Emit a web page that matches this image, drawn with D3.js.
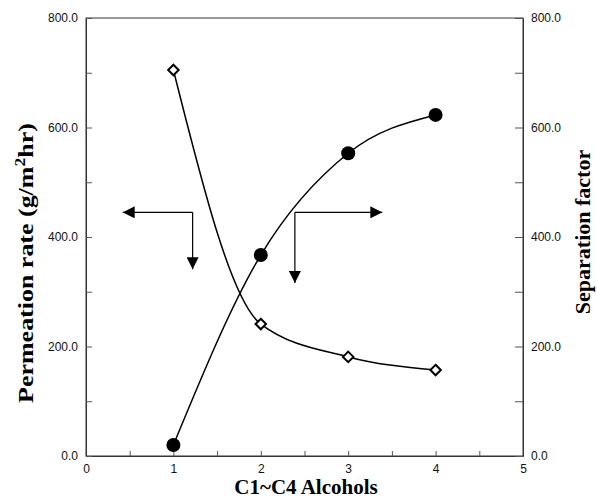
<!DOCTYPE html>
<html>
<head>
<meta charset="utf-8">
<script src="https://cdn.jsdelivr.net/npm/d3@7"></script>
<style>
	body { margin: 0; background: white; }
</style>
</head>
<body>
<div id="viz"></div>
<script>
// alcohols C1..C4
let alcohols = [1, 2, 3, 4];
let permeation = [20, 367, 553, 623];   // g/m2hr, left axis, filled circles
let separation = [705, 241, 181, 157];  // right axis, open diamonds
let xTicks = [0, 1, 2, 3, 4, 5];
let yTicks = [0, 200, 400, 600, 800];
// arrow annotations in data units: corner, horizontal tip, vertical tip
let arrowLeft = {"x": 1.22, "y": 445, "hx": 0.42, "vy": 341};
let arrowRight = {"x": 2.39, "y": 445, "hx": 3.39, "vy": 316};

let W = 597, H = 501;
let mLeft = 86, mRight = 523, mTop = 18, mBottom = 456;

let svg = d3.select("#viz").append("svg")
	.attr("width", W).attr("height", H);

let x = d3.scaleLinear().domain([0, 5]).range([mLeft, mRight]);
let y = d3.scaleLinear().domain([0, 800]).range([mBottom, mTop]);

// frame
svg.append("rect")
	.attr("x", mLeft).attr("y", mTop)
	.attr("width", mRight - mLeft).attr("height", mBottom - mTop)
	.attr("fill", "none").attr("stroke", "#333").attr("stroke-width", 1);

// axes, ticks pointing inward
let axB = svg.append("g").attr("transform", "translate(0," + mBottom + ")")
	.call(d3.axisBottom(x).tickValues(d3.range(0, 5.01, 0.5)).tickSizeInner(-5).tickSizeOuter(0)
		.tickFormat(d => xTicks.includes(d) ? d : ""));
let axL = svg.append("g").attr("transform", "translate(" + mLeft + ",0)")
	.call(d3.axisLeft(y).tickValues(d3.range(0, 801, 100)).tickSizeInner(-6).tickSizeOuter(0)
		.tickFormat(d => yTicks.includes(d) ? d3.format(".1f")(d) : ""));
let axR = svg.append("g").attr("transform", "translate(" + mRight + ",0)")
	.call(d3.axisRight(y).tickValues(d3.range(0, 801, 100)).tickSizeInner(-8).tickSizeOuter(0)
		.tickFormat(d => yTicks.includes(d) ? d3.format(".1f")(d) : ""));

[axB, axL, axR].forEach(g => {
	g.select(".domain").attr("stroke", "#333");
	g.selectAll(".tick line").attr("stroke", "#555");
	g.selectAll("text")
		.style("font-family", "'Liberation Sans', Arial, sans-serif")
		.style("font-size", "12px")
		.attr("fill", "#111");
});
axB.selectAll("text").attr("dy", "0.71em").attr("y", 8);
axL.selectAll("text").attr("x", -8);
axR.selectAll("text").attr("x", 8);

// axis titles
let titleFont = "'Liberation Serif', 'Times New Roman', serif";
svg.append("text")
	.attr("x", 306).attr("y", 494)
	.attr("text-anchor", "middle")
	.style("font-family", titleFont).style("font-weight", "bold").style("font-size", "21px")
	.text("C1~C4 Alcohols");

let yl = svg.append("text")
	.attr("text-anchor", "middle")
	.style("font-family", titleFont).style("font-weight", "bold").style("font-size", "22px");
yl.append("tspan").text("Permeation rate (g/m");
yl.append("tspan").attr("dy", -8).style("font-size", "15px").text("2");
yl.append("tspan").attr("dy", 8).text("hr)");
let ylLen = yl.node().getComputedTextLength();
yl.attr("transform", "translate(33,263) rotate(-90) scale(" + (280 / ylLen) + ",1)");

svg.append("text")
	.attr("transform", "translate(590,232) rotate(-90)")
	.attr("text-anchor", "middle")
	.style("font-family", titleFont).style("font-weight", "bold").style("font-size", "22px")
	.text("Separation factor");

// curves
let line = d3.line().curve(d3.curveMonotoneX);
let permPts = alcohols.map((a, i) => [x(a), y(permeation[i])]);
let sepPts = alcohols.map((a, i) => [x(a), y(separation[i])]);

svg.append("path").attr("d", line(permPts))
	.attr("fill", "none").attr("stroke", "black").attr("stroke-width", 1.5);
svg.append("path").attr("d", line(sepPts))
	.attr("fill", "none").attr("stroke", "black").attr("stroke-width", 1.5);

// markers
svg.selectAll(".circ").data(permPts).enter().append("circle")
	.attr("cx", d => d[0]).attr("cy", d => d[1]).attr("r", 7)
	.attr("fill", "black");
svg.selectAll(".diam").data(sepPts).enter().append("path")
	.attr("d", d3.symbol().type(d3.symbolDiamond2).size(70))
	.attr("transform", d => "translate(" + d[0] + "," + d[1] + ")")
	.attr("fill", "white").attr("stroke", "black").attr("stroke-width", 2);

// arrows
svg.append("defs").append("marker")
	.attr("id", "head").attr("viewBox", "0 0 10 10")
	.attr("refX", 10).attr("refY", 5)
	.attr("markerWidth", 12).attr("markerHeight", 12)
	.attr("markerUnits", "userSpaceOnUse")
	.attr("orient", "auto")
	.append("path").attr("d", "M0,0L10,5L0,10Z").attr("fill", "black");

[arrowLeft, arrowRight].forEach(a => {
	svg.append("line")
		.attr("x1", x(a.x)).attr("y1", y(a.y)).attr("x2", x(a.hx)).attr("y2", y(a.y))
		.attr("stroke", "black").attr("stroke-width", 1.2).attr("marker-end", "url(#head)");
	svg.append("line")
		.attr("x1", x(a.x)).attr("y1", y(a.y)).attr("x2", x(a.x)).attr("y2", y(a.vy))
		.attr("stroke", "black").attr("stroke-width", 1.2).attr("marker-end", "url(#head)");
});
</script>
</body>
</html>
